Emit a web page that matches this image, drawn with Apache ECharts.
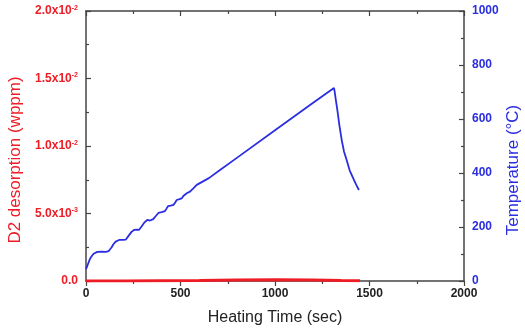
<!DOCTYPE html>
<html>
<head>
<meta charset="utf-8">
<script src="https://cdn.jsdelivr.net/npm/echarts@6/dist/echarts.min.js"></script>
<style>
  html, body { margin: 0; padding: 0; background: #fff; }
  #chart { width: 525px; height: 335px; }
</style>
</head>
<body>
<div id="chart"></div>
<script>
// temperature trace
var tempTime = [0, 5, 10, 20, 27, 33, 40, 50, 60, 85, 105, 113, 120, 127, 135, 145, 157, 165, 175, 195,
  210, 218, 228, 241, 248, 254, 268, 280, 287, 293, 308, 316, 324, 332, 339, 346, 356, 365, 374, 383,
  392, 400, 409, 418, 427, 434, 441, 448, 455, 463, 471, 480, 488, 495, 501, 508, 515, 524, 533, 541,
  550, 559, 568, 577, 586, 650, 709, 800, 1000, 1200, 1312, 1316, 1322, 1330, 1340, 1353, 1365, 1379,
  1395, 1414, 1430, 1444];
var tempC = [44, 52, 62, 80, 89, 96, 101, 106, 108, 109, 108, 109, 111, 115, 124, 136, 146, 150, 152, 152,
  153, 158, 170, 182, 187, 189, 190, 189, 194, 201, 216, 222, 226, 226, 224, 225, 229, 237, 244, 252,
  257, 255, 251, 259, 269, 277, 281, 279, 275, 282, 290, 300, 306, 303, 300, 307, 315, 321, 325, 327,
  331, 338, 343, 350, 356, 381, 411, 457, 558, 659, 715, 700, 670, 633, 580, 522, 480, 448, 410, 380,
  356, 337];

// D2 desorption (almost flat at zero)
var d2Time = [0, 200, 400, 600, 800, 1000, 1200, 1350, 1450];
var d2Wppm = [0, 0, 0.00002, 0.00004, 0.00008, 0.0001, 0.00008, 0.00004, 0.00002];

var leftTickLabels = ['0.0', '5.0x10{s|-3}', '1.0x10{s|-2}', '1.5x10{s|-2}', '2.0x10{s|-2}'];

var RED = '#ee1c25';
var BLUE = '#2a2ee0';
var AXIS = '#444';

function pairs(xs, ys) {
  return xs.map(function (x, i) { return [x, ys[i]]; });
}

function plain(v) { return String(v); }

var myChart = echarts.init(document.getElementById('chart'));

var option = {
  animation: false,
  grid: { left: 86, right: 61, top: 11, bottom: 54, containLabel: false, outerBoundsMode: 'none' },
  xAxis: [{
    type: 'value', min: 0, max: 2000, interval: 500,
    name: 'Heating Time (sec)', nameLocation: 'middle', nameGap: 29,
    nameTextStyle: { fontFamily: 'Liberation Sans', fontSize: 16, color: '#222' },
    axisLine: { onZero: false, lineStyle: { color: AXIS, width: 1.5 } },
    axisTick: { length: 5, lineStyle: { color: AXIS, width: 1.2 } },
    minorTick: { show: true, splitNumber: 2, length: 3, lineStyle: { color: AXIS, width: 1.2 } },
    splitLine: { show: false },
    axisLabel: { formatter: plain, fontFamily: 'Liberation Sans', fontWeight: 'bold', fontSize: 12, color: '#222', margin: 7 }
  }, {
    type: 'value', min: 0, max: 2000, interval: 500, position: 'top',
    axisLine: { show: true, onZero: false, lineStyle: { color: AXIS, width: 1.5 } },
    axisTick: { inside: true, length: 5, lineStyle: { color: AXIS, width: 1.2 } },
    minorTick: { show: true, splitNumber: 2, length: 3, lineStyle: { color: AXIS, width: 1.2 } },
    splitLine: { show: false },
    axisLabel: { show: false }
  }],
  yAxis: [{
    type: 'value', min: 0, max: 0.02, interval: 0.005, position: 'left',
    name: 'D2 desorption (wppm)', nameLocation: 'middle', nameGap: 62, nameMoveOverlap: false,
    nameTextStyle: { fontFamily: 'Liberation Sans', fontSize: 17, color: RED, padding: [0, 28, 0, 0] },
    axisLine: { show: true, onZero: false, lineStyle: { color: AXIS, width: 1.5 } },
    axisTick: { inside: true, length: 5, lineStyle: { color: AXIS, width: 1.2 } },
    minorTick: { show: true, splitNumber: 2, length: 3, lineStyle: { color: AXIS, width: 1.2 } },
    splitLine: { show: false },
    axisLabel: {
      margin: 8,
      formatter: function (v) { return leftTickLabels[Math.round(v / 0.005)]; },
      fontFamily: 'Liberation Sans', fontWeight: 'bold', fontSize: 12, color: RED,
      rich: { s: { fontFamily: 'Liberation Sans', fontWeight: 'bold', fontSize: 7, color: RED, verticalAlign: 'top', padding: [0, 0, 6, 0] } }
    }
  }, {
    type: 'value', min: 0, max: 1000, interval: 200, position: 'right',
    name: 'Temperature (\u00b0C)', nameLocation: 'middle', nameGap: 41, nameMoveOverlap: false,
    nameTextStyle: { fontFamily: 'Liberation Sans', fontSize: 17, color: BLUE, padding: [0, 48, 0, 0] },
    axisLine: { show: true, onZero: false, lineStyle: { color: AXIS, width: 1.5 } },
    axisTick: { inside: true, length: 5, lineStyle: { color: AXIS, width: 1.2 } },
    minorTick: { show: true, splitNumber: 2, length: 3, lineStyle: { color: AXIS, width: 1.2 } },
    splitLine: { show: false },
    axisLabel: { formatter: plain, fontFamily: 'Liberation Sans', fontWeight: 'bold', fontSize: 12, color: BLUE, margin: 8 }
  }],
  series: [{
    name: 'D2', type: 'line', xAxisIndex: 0, yAxisIndex: 0,
    data: pairs(d2Time, d2Wppm), showSymbol: false,
    lineStyle: { color: RED, width: 3 }, z: 3
  }, {
    name: 'Temperature', type: 'line', xAxisIndex: 0, yAxisIndex: 1,
    data: pairs(tempTime, tempC), showSymbol: false,
    lineStyle: { color: BLUE, width: 1.8 }, z: 2
  }]
};

option && myChart.setOption(option);

window.addEventListener('resize', function () {
  myChart.resize();
});
</script>
</body>
</html>
